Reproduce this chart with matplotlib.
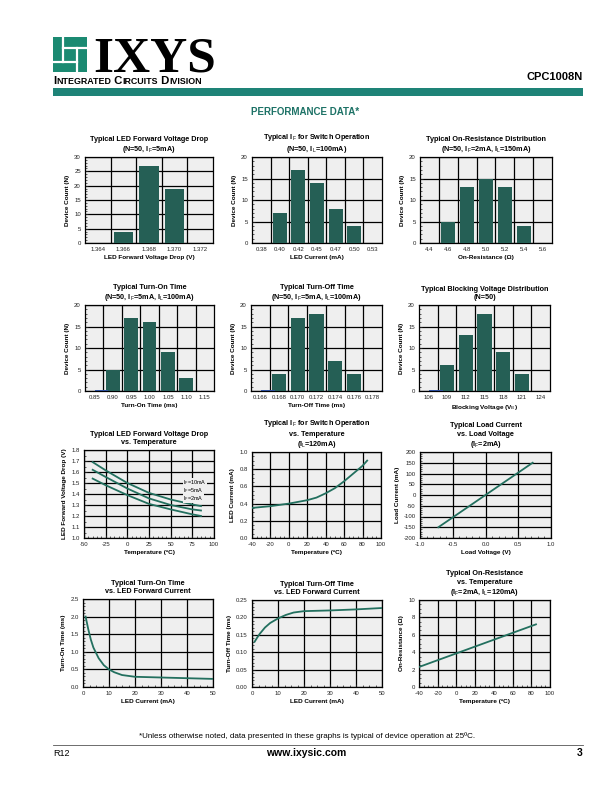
import numpy as np
import matplotlib
matplotlib.use('Agg')
import matplotlib.pyplot as plt
from matplotlib.patches import Rectangle
from matplotlib.ticker import MultipleLocator, FormatStrFormatter

plt.rcParams.update({'font.family': 'Liberation Sans',
                     'mathtext.fontset': 'custom',
                     'mathtext.rm': 'Liberation Sans',
                     'mathtext.it': 'Liberation Sans',
                     'mathtext.bf': 'Liberation Sans:bold',
                     'axes.unicode_minus': False})

W, H = 612, 792
BG = '#efefef'
BAR = '#255f55'
LINE = '#23705f'
TEAL = '#1e8377'

# histogram data
vf_bins = ['1.364', '1.366', '1.368', '1.370', '1.372']
vf_counts = [0, 4, 27, 19, 0]
if_bins = ['0.38', '0.40', '0.42', '0.45', '0.47', '0.50', '0.53']
if_counts = [0, 7, 17, 14, 8, 4, 0]
ron_bins = ['4.4', '4.6', '4.8', '5.0', '5.2', '5.4', '5.6']
ron_counts = [0, 5, 13, 15, 13, 4, 0]
ton_bins = ['0.85', '0.90', '0.95', '1.00', '1.05', '1.10', '1.15']
ton_counts = [0, 5, 17, 16, 9, 3, 0]
toff_bins = ['0.166', '0.168', '0.170', '0.172', '0.174', '0.176', '0.178']
toff_counts = [0, 4, 17, 18, 7, 4, 0]
vb_bins = ['106', '109', '112', '115', '118', '121', '124']
vb_counts = [0, 6, 13, 18, 9, 4, 0]

# curve data
vf_temp = [-40, -25, 0, 25, 50, 75, 85]
vf_10ma = [1.69, 1.615, 1.50, 1.41, 1.35, 1.305, 1.29]
vf_5ma = [1.62, 1.555, 1.45, 1.36, 1.30, 1.26, 1.25]
vf_2ma = [1.54, 1.48, 1.39, 1.31, 1.26, 1.215, 1.20]
vf_labels = ['I$_F$=10mA', 'I$_F$=5mA', 'I$_F$=2mA']
vf_label_y = [1.50, 1.43, 1.36]

ift_temp = [-40, -20, 0, 20, 30, 40, 50, 60, 70, 80, 85]
ift_led = [0.35, 0.37, 0.40, 0.44, 0.47, 0.52, 0.58, 0.66, 0.75, 0.84, 0.90]

load_v = [-0.72, 0.0, 0.72]
load_i = [-150, 0, 150]

ton_if = [1, 2, 3, 4, 6, 8, 10, 12, 15, 20, 30, 40, 50]
ton_ms = [2.0, 1.65, 1.35, 1.12, 0.82, 0.62, 0.50, 0.42, 0.34, 0.29, 0.27, 0.25, 0.23]

toff_if = [1, 2, 3, 5, 7, 10, 13, 16, 20, 30, 40, 50]
toff_ms = [0.13, 0.142, 0.153, 0.171, 0.184, 0.197, 0.207, 0.214, 0.218, 0.220, 0.223, 0.227]

ron_temp = [-40, 85]
ron_ohm = [2.3, 7.2]

fig = plt.figure(figsize=(W / 100, H / 100), dpi=100)


def px(x, y):
    return x / W, 1 - y / H


def frame(x0, y0, x1, y1):
    return fig.add_axes([x0 / W, 1 - y1 / H, (x1 - x0) / W, (y1 - y0) / H])


def style(ax, title, xlabel, ylabel):
    ax.set_facecolor(BG)
    for s in ax.spines.values():
        s.set_linewidth(0.9)
    ax.tick_params(which='both', direction='in', labelsize=4.3, top=False, right=False, colors='#222222')
    ax.tick_params(which='major', length=2.2, width=0.6, pad=3)
    ax.tick_params(which='minor', length=1.4, width=0.5)
    ax.set_title(title, fontsize=5.2, fontweight='bold', pad=4, linespacing=1.25)
    ax.set_xlabel(xlabel, fontsize=4.6, fontweight='bold', labelpad=2)
    ax.set_ylabel(ylabel, fontsize=4.6, fontweight='bold', labelpad=3)


def hist(box, bins, counts, ymax, title, xlabel, blue_zero=False):
    ax = frame(*box)
    style(ax, title, xlabel, 'Device Count (N)')
    pos = np.arange(len(bins))
    ax.bar(pos, counts, width=0.75, color=BAR, zorder=3)
    if blue_zero:
        ax.bar(pos[0] + 0.4, 0.25, width=0.75, color='#2d4f9e', zorder=3)
    ax.set_xlim(-0.5, len(bins) - 0.5)
    ax.set_ylim(0, ymax)
    ax.set_xticks(pos, bins)
    ax.tick_params(axis='x', which='both', length=0)
    for p in pos[:-1]:
        ax.axvline(p + 0.5, color='k', lw=0.9, zorder=2)
    ax.yaxis.set_major_locator(MultipleLocator(5))
    ax.yaxis.set_minor_locator(MultipleLocator(1))
    ax.grid(axis='y', which='major', color='k', lw=0.9, zorder=2)
    return ax


def curve(box, xlim, xstep, ylim, ystep, xfmt, yfmt, title, xlabel, ylabel, xminor=5, yminor=5):
    ax = frame(*box)
    style(ax, title, xlabel, ylabel)
    ax.set_xlim(*xlim)
    ax.set_ylim(*ylim)
    ax.xaxis.set_major_locator(MultipleLocator(xstep))
    ax.yaxis.set_major_locator(MultipleLocator(ystep))
    ax.xaxis.set_minor_locator(MultipleLocator(xstep / xminor))
    ax.yaxis.set_minor_locator(MultipleLocator(ystep / yminor))
    ax.xaxis.set_major_formatter(FormatStrFormatter(xfmt))
    ax.yaxis.set_major_formatter(FormatStrFormatter(yfmt))
    ax.grid(which='major', color='k', lw=0.9, zorder=1)
    return ax


# row 1
hist((85, 157, 213, 243), vf_bins, vf_counts, 30,
     'Typical LED Forward Voltage Drop\n(N=50, I$_F$=5mA)', 'LED Forward Voltage Drop (V)')
hist((252, 157, 382, 243), if_bins, if_counts, 20,
     'Typical I$_F$ for Switch Operation\n(N=50, I$_L$=100mA)', 'LED Current (mA)')
hist((420, 157, 552, 243), ron_bins, ron_counts, 20,
     'Typical On-Resistance Distribution\n(N=50, I$_F$=2mA, I$_L$=150mA)', 'On-Resistance (\u03a9)')

# row 2
hist((85, 305, 214, 391), ton_bins, ton_counts, 20,
     'Typical Turn-On Time\n(N=50, I$_F$=5mA, I$_L$=100mA)', 'Turn-On Time (ms)', blue_zero=True)
hist((251, 305, 382, 391), toff_bins, toff_counts, 20,
     'Typical Turn-Off Time\n(N=50, I$_F$=5mA, I$_L$=100mA)', 'Turn-Off Time (ms)', blue_zero=True)
hist((419, 305, 550, 391), vb_bins, vb_counts, 20,
     'Typical Blocking Voltage Distribution\n(N=50)', 'Blocking Voltage (V$_B$)', blue_zero=True)

# row 3
ax = curve((84, 450, 214, 538), (-50, 100), 25, (1.0, 1.8), 0.1, '%d', '%.1f',
           'Typical LED Forward Voltage Drop\nvs. Temperature', 'Temperature (\u00baC)',
           'LED Forward Voltage Drop (V)', xminor=5, yminor=2)
for ys in (vf_10ma, vf_5ma, vf_2ma):
    ax.plot(vf_temp, ys, color=LINE, lw=1.3, zorder=3)
for lab, yl in zip(vf_labels, vf_label_y):
    ax.text(64, yl, lab, fontsize=4.0, va='center', ha='left', zorder=4,
            bbox=dict(facecolor=BG, edgecolor='none', pad=0.2))

ax = curve((252, 452, 381, 538), (-40, 100), 20, (0.0, 1.0), 0.2, '%d', '%.1f',
           'Typical I$_F$ for Switch Operation\nvs. Temperature\n(I$_L$=120mA)',
           'Temperature (\u00baC)', 'LED Current (mA)', xminor=4, yminor=4)
ax.plot(ift_temp, ift_led, color=LINE, lw=1.3, zorder=3)

ax = curve((420, 452, 551, 538), (-1.0, 1.0), 0.5, (-200, 200), 50, '%.1f', '%d',
           'Typical Load Current\nvs. Load Voltage\n(I$_F$=2mA)',
           'Load Voltage (V)', 'Load Current (mA)', xminor=5, yminor=5)
ax.plot(load_v, load_i, color=LINE, lw=1.3, zorder=3)

# row 4
ax = curve((83, 599, 213, 687), (0, 50), 10, (0.0, 2.5), 0.5, '%d', '%.1f',
           'Typical Turn-On Time\nvs. LED Forward Current', 'LED Current (mA)',
           'Turn-On Time (ms)', xminor=4, yminor=5)
ax.plot(ton_if, ton_ms, color=LINE, lw=1.3, zorder=3)

ax = curve((252, 600, 382, 687), (0, 50), 10, (0.0, 0.25), 0.05, '%d', '%.2f',
           'Typical Turn-Off Time\nvs. LED Forward Current', 'LED Current (mA)',
           'Turn-Off Time (ms)', xminor=4, yminor=5)
ax.plot(toff_if, toff_ms, color=LINE, lw=1.3, zorder=3)

ax = curve((419, 600, 550, 687), (-40, 100), 20, (0, 10), 2, '%d', '%d',
           'Typical On-Resistance\nvs. Temperature\n(I$_F$=2mA, I$_L$=120mA)',
           'Temperature (\u00baC)', 'On-Resistance (\u03a9)', xminor=4, yminor=4)
ax.plot(ron_temp, ron_ohm, color=LINE, lw=1.3, zorder=3)

# header
logo_green = '#1b8a72'
fig.patches.append(Rectangle(px(53, 72), 34 / W, 35 / H, transform=fig.transFigure,
                             facecolor=logo_green, edgecolor='none'))
for (xa, ya), (xb, yb) in [((63, 37), (63, 62)), ((53, 62), (77, 62)),
                           ((77, 48), (77, 72)), ((63, 48), (87, 48))]:
    fig.add_artist(plt.Line2D([xa / W, xb / W], [1 - ya / H, 1 - yb / H],
                              transform=fig.transFigure, color='white', lw=1.6))
fig.text(*px(93, 72), 'IXYS', fontsize=37, fontweight='bold', family='Liberation Serif',
         va='baseline', ha='left')

# small caps company line
renderer = fig.canvas.get_renderer()
xpos = 53
for piece, size in [('I', 8.2), ('NTEGRATED', 6.4), (' C', 8.2), ('IRCUITS', 6.4),
                    (' D', 8.2), ('IVISION', 6.4)]:
    t = fig.text(*px(xpos, 84), piece, fontsize=size, fontweight='bold', va='baseline', ha='left')
    xpos += t.get_window_extent(renderer).width

fig.text(*px(583, 80), 'CPC1008N', fontsize=8, fontweight='bold', va='baseline', ha='right')
fig.patches.append(Rectangle(px(53, 96), 530 / W, 8 / H, transform=fig.transFigure,
                             facecolor=TEAL, edgecolor='none'))
fig.text(*px(305, 115), 'PERFORMANCE DATA*', fontsize=7, fontweight='bold', color='#1d7266',
         va='baseline', ha='center')

# footer
fig.text(*px(307, 738), '*Unless otherwise noted, data presented in these graphs is typical of device operation at 25\u00baC.',
         fontsize=5.8, va='baseline', ha='center')
fig.add_artist(plt.Line2D([53 / W, 583 / W], [1 - 745 / H, 1 - 745 / H],
                          transform=fig.transFigure, color='#555555', lw=0.6))
fig.text(*px(53, 756), 'R12', fontsize=6.5, va='baseline', ha='left')
fig.text(*px(306, 756), 'www.ixysic.com', fontsize=7.5, fontweight='bold', va='baseline', ha='center')
fig.text(*px(583, 756), '3', fontsize=7.5, fontweight='bold', va='baseline', ha='right')

fig.savefig('out.png', dpi=100)
